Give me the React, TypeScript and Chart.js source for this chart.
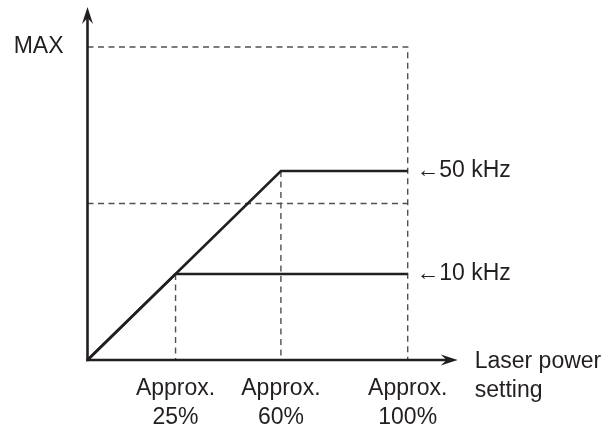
import React, { useEffect, useRef } from "react";
import { Chart, registerables } from "chart.js";

Chart.register(...registerables);

// ---- data (in % of axis range) ----
const xTickValues = [27.5, 60.4, 100];
const xTickLabels = [["Approx.", "25%"], ["Approx.", "60%"], ["Approx.", "100%"]];
const yTickValues = [100];
const yTickLabels = ["MAX"];
const seriesNames = ["50 kHz", "10 kHz"];
const series50x = [0, 60.4, 100];
const series50y = [0, 60.4, 60.4];
const series10x = [0, 27.5, 100];
const series10y = [0, 27.5, 27.5];
const midLevel = 50;
const axisTitleLines = ["Laser power", "setting"];

const INK = "#231f20";
const DASH = "#505050";
const FONT_FAMILY = "'Liberation Sans', Arial, Helvetica, sans-serif";
const FONT_SIZE = 23;

const toPts = (xs: number[], ys: number[]) => xs.map((x, i) => ({ x, y: ys[i] }));

export default function App() {
  const ref = useRef<HTMLCanvasElement | null>(null);

  useEffect(() => {
    const canvas = ref.current;
    if (!canvas) return;

    const s50 = toPts(series50x, series50y);
    const s10 = toPts(series10x, series10y);
    const xMax = xTickValues[xTickValues.length - 1];
    const yMax = yTickValues[0];
    const knee50 = s50[1];
    const knee10 = s10[1];

    const dashed = (data: { x: number; y: number }[]) => ({
      data,
      borderColor: DASH,
      borderWidth: 1.4,
      borderDash: [6, 4.5],
      pointRadius: 0,
      fill: false,
      clip: false as const,
      order: 2,
    });

    const solid = (data: { x: number; y: number }[]) => ({
      data,
      borderColor: INK,
      borderWidth: 2.6,
      borderJoinStyle: "miter" as const,
      pointRadius: 0,
      fill: false,
      clip: false as const,
      order: 1,
    });

    const rightValues = [s50[2].y, s10[2].y];
    const rightLabels = seriesNames.map((n) => "\u2190" + n);

    const arrowPlugin = {
      id: "arrows",
      afterDraw(chart: any) {
        const ctx = chart.ctx as CanvasRenderingContext2D;
        const xs = chart.scales.x;
        const ys = chart.scales.y;
        const ox = xs.getPixelForValue(0);
        const oy = ys.getPixelForValue(0);
        const xTip = xs.getPixelForValue(xMax) + 50;
        const yTip = ys.getPixelForValue(yMax) - 40;
        ctx.save();
        ctx.strokeStyle = INK;
        ctx.fillStyle = INK;
        ctx.lineWidth = 2.6;
        ctx.lineCap = "butt";
        // y axis
        ctx.beginPath();
        ctx.moveTo(ox, oy + 1.3);
        ctx.lineTo(ox, yTip + 8);
        ctx.stroke();
        // x axis
        ctx.beginPath();
        ctx.moveTo(ox - 1.3, oy);
        ctx.lineTo(xTip - 8, oy);
        ctx.stroke();
        // arrowheads
        const L = 17, W = 5.5, N = 11;
        ctx.beginPath();
        ctx.moveTo(ox, yTip);
        ctx.lineTo(ox - W, yTip + L);
        ctx.lineTo(ox, yTip + N);
        ctx.lineTo(ox + W, yTip + L);
        ctx.closePath();
        ctx.fill();
        ctx.beginPath();
        ctx.moveTo(xTip, oy);
        ctx.lineTo(xTip - L, oy - W);
        ctx.lineTo(xTip - N, oy);
        ctx.lineTo(xTip - L, oy + W);
        ctx.closePath();
        ctx.fill();
        // axis title
        ctx.font = `${FONT_SIZE}px ${FONT_FAMILY}`;
        ctx.textAlign = "left";
        ctx.textBaseline = "alphabetic";
        axisTitleLines.forEach((t, i) => {
          ctx.fillText(t, xTip + 17, oy + 8 + i * 29);
        });
        ctx.restore();
      },
    };

    const chart = new Chart(canvas, {
      type: "line",
      data: {
        datasets: [
          solid(s50),
          solid(s10),
          dashed([{ x: 0, y: yMax }, { x: xMax, y: yMax }, { x: xMax, y: 0 }]),
          dashed([{ x: 0, y: midLevel }, { x: xMax, y: midLevel }]),
          dashed([{ x: knee10.x, y: knee10.y }, { x: knee10.x, y: 0 }]),
          dashed([{ x: knee50.x, y: knee50.y }, { x: knee50.x, y: 0 }]),
        ] as any,
      },
      options: {
        animation: false,
        responsive: false,
        maintainAspectRatio: false,
        events: [],
        layout: { padding: { top: 47, left: 0, right: 0, bottom: 0 } },
        plugins: {
          legend: { display: false },
          tooltip: { enabled: false },
          title: { display: false },
        },
        scales: {
          x: {
            type: "linear",
            position: "bottom",
            min: 0,
            max: xMax,
            grid: { display: false, drawTicks: false },
            border: { display: false },
            afterBuildTicks: (scale: any) => {
              scale.ticks = xTickValues.map((v) => ({ value: v }));
            },
            afterFit: (scale: any) => {
              scale.height = 72;
            },
            ticks: {
              autoSkip: false,
              maxRotation: 0,
              minRotation: 0,
              padding: 14.5,
              color: INK,
              font: { family: FONT_FAMILY, size: FONT_SIZE, lineHeight: 29 / FONT_SIZE },
              callback: (_v: any, i: number) => xTickLabels[i],
            },
          },
          y: {
            type: "linear",
            position: "left",
            min: 0,
            max: yMax,
            grid: { display: false, drawTicks: false },
            border: { display: false },
            afterBuildTicks: (scale: any) => {
              scale.ticks = yTickValues.map((v) => ({ value: v }));
            },
            afterFit: (scale: any) => {
              scale.width = 87.5;
            },
            ticks: {
              autoSkip: false,
              padding: 24,
              color: INK,
              font: { family: FONT_FAMILY, size: FONT_SIZE },
              callback: (_v: any, i: number) => yTickLabels[i],
            },
          },
          y2: {
            type: "linear",
            position: "right",
            min: 0,
            max: yMax,
            grid: { display: false, drawTicks: false },
            border: { display: false },
            afterBuildTicks: (scale: any) => {
              scale.ticks = rightValues.map((v) => ({ value: v }));
            },
            afterFit: (scale: any) => {
              scale.width = 614 - 407.7;
            },
            ticks: {
              autoSkip: false,
              padding: 8.5,
              color: INK,
              font: { family: FONT_FAMILY, size: FONT_SIZE },
              callback: (_v: any, i: number) => rightLabels[i],
            },
          },
        },
      } as any,
      plugins: [arrowPlugin],
    });

    return () => chart.destroy();
  }, []);

  return (
    <div style={{ position: "fixed", left: 0, top: 0, width: 614, height: 432, background: "#fff" }}>
      <canvas ref={ref} width={614} height={432} style={{ display: "block" }} />
    </div>
  );
}
